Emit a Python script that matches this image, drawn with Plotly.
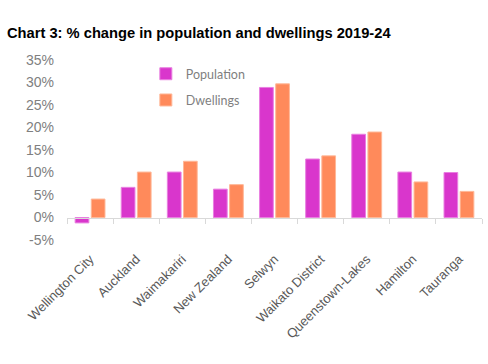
import plotly.graph_objects as go

categories = ["Wellington City", "Auckland", "Waimakariri", "New Zealand", "Selwyn",
              "Waikato District", "Queenstown-Lakes", "Hamilton", "Tauranga"]
population = [-1.2, 6.7, 10.1, 6.3, 28.9, 13.0, 18.5, 10.1, 10.0]
dwellings = [4.1, 10.1, 12.5, 7.3, 29.7, 13.7, 19.0, 7.9, 5.8]
y_ticks = [-5, 0, 5, 10, 15, 20, 25, 30, 35]
y_tick_labels = [f"{v}%" for v in y_ticks]

fig = go.Figure()
fig.add_trace(go.Bar(x=categories, y=population, name="Population",
                     marker=dict(color="#D936CC", line=dict(color="#E97FE0", width=1)),
                     legendgroup="p"))
fig.add_trace(go.Bar(x=categories, y=dwellings, name="Dwellings",
                     marker=dict(color="#FF8A5B", line=dict(color="#FFB898", width=1)),
                     legendgroup="d"))
# invisible trace to carry the zero-level axis with boundary ticks
fig.add_trace(go.Scatter(x=categories, y=[0]*len(categories), xaxis="x2", yaxis="y",
                         mode="markers", marker=dict(opacity=0), showlegend=False,
                         hoverinfo="skip"))

fig.update_layout(
    width=488, height=364,
    margin=dict(l=67, r=6, t=60, b=124, autoexpand=False),
    paper_bgcolor="white", plot_bgcolor="white",
    title=dict(text="<b>Chart 3: % change in population and dwellings 2019-24</b>",
               x=7/488, xanchor="left", y=1-33/364, yanchor="middle",
               font=dict(family="Liberation Sans, Arial", size=14.7, color="#000000")),
    barmode="group", bargap=0.3, bargroupgap=0.15,
    showlegend=True,
    legend=dict(x=0.19, y=1.005, xanchor="left", yanchor="top",
                bgcolor="rgba(0,0,0,0)", traceorder="grouped", tracegroupgap=7,
                font=dict(family="Lato, Open Sans", size=12.5, color="#7f7f7f"),
                itemwidth=30),
    xaxis=dict(type="category", categoryorder="array", categoryarray=categories,
               range=[-0.5, 8.5], showline=False, ticks="", showgrid=False,
               tickangle=-45, automargin=False, ticklabelstandoff=8,
               tickfont=dict(family="Liberation Sans, Arial", size=13, color="#595959")),
    xaxis2=dict(type="category", categoryorder="array", categoryarray=categories,
                range=[-0.5, 8.5], overlaying="x", anchor="free", position=0.125,
                showline=True, linecolor="#d9d9d9", linewidth=1,
                ticks="outside", tickson="boundaries", ticklen=5, tickcolor="#d9d9d9",
                showticklabels=False, showgrid=False, automargin=False),
    yaxis=dict(range=[-5, 35], tickvals=y_ticks, ticktext=y_tick_labels,
               showgrid=False, zeroline=False, showline=False, automargin=False,
               tickfont=dict(family="Liberation Sans, Arial", size=14, color="#808080"),
               ticklabelstandoff=12),
)

fig.write_html("out.html", config={"displayModeBar": False},
               post_script="document.body.style.margin='0';document.body.style.padding='0';")
